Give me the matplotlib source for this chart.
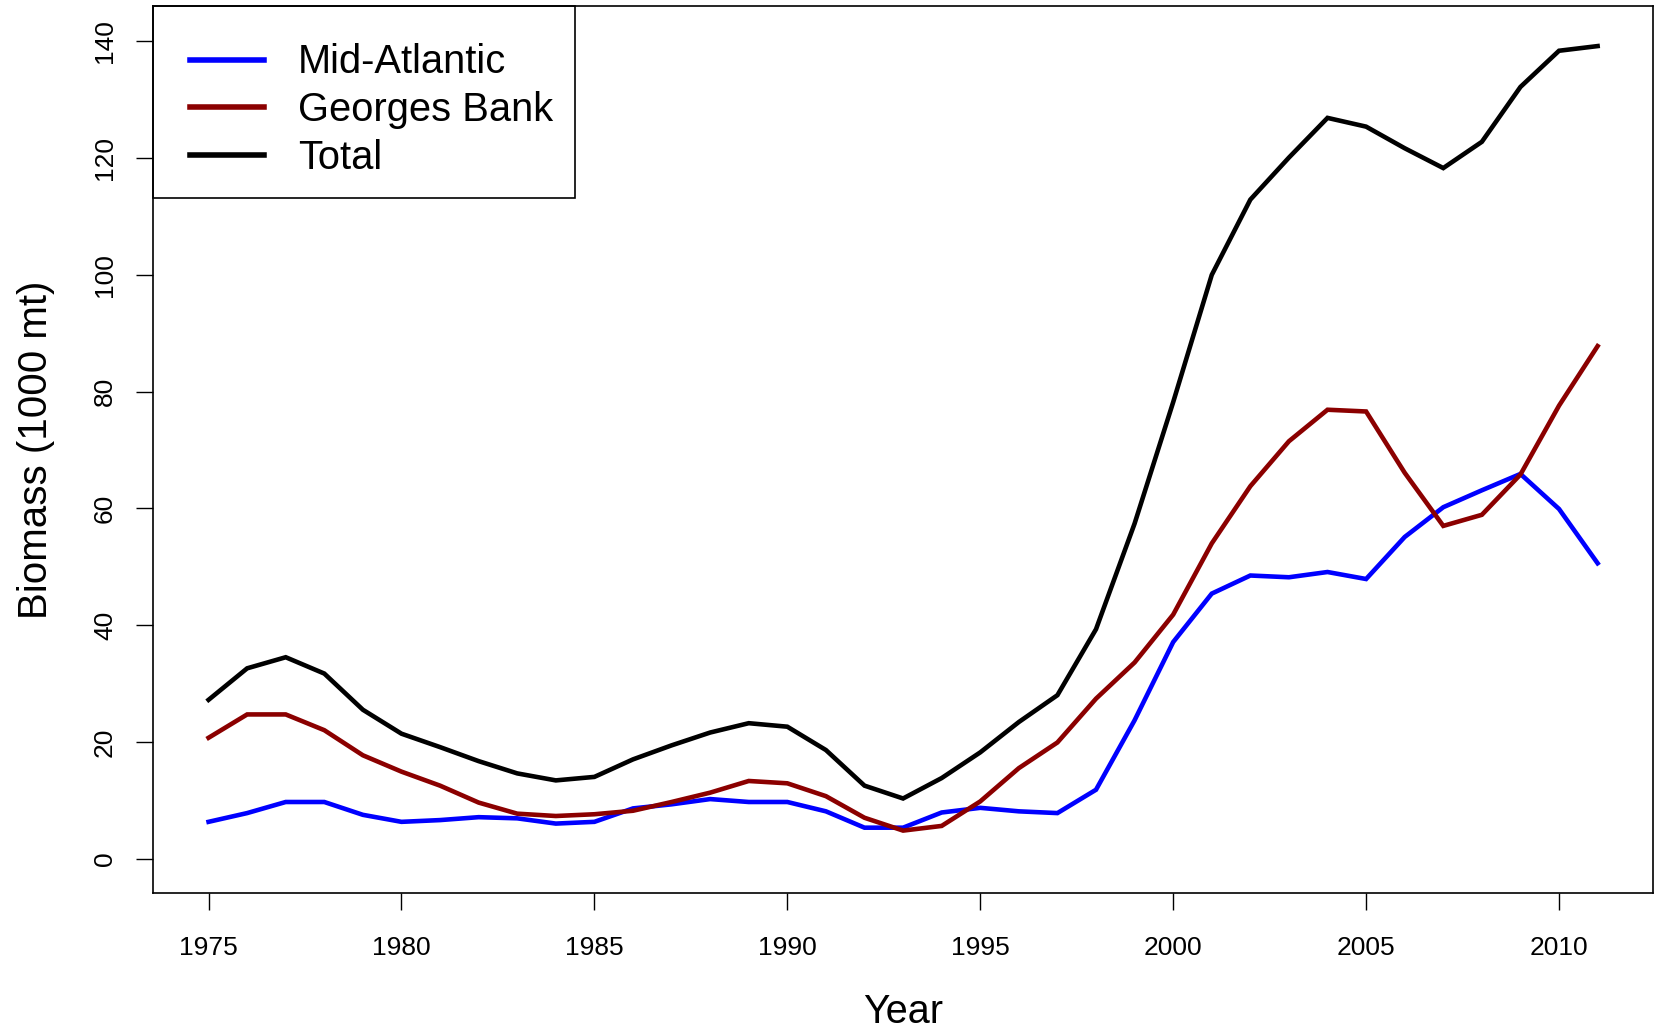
import matplotlib
matplotlib.use("Agg")
import matplotlib.pyplot as plt
from matplotlib.patches import Rectangle

plt.rcParams['font.family'] = ['Liberation Sans', 'DejaVu Sans']

years = list(range(1975, 2012))

mid_atlantic = [6.3, 7.8, 9.7, 9.7, 7.5, 6.3, 6.6, 7.1, 6.9, 6.0,
                6.3, 8.6, 9.3, 10.2, 9.7, 9.7, 8.1, 5.3, 5.3, 7.9,
                8.7, 8.1, 7.8, 11.8, 23.7, 37.1, 45.4, 48.5, 48.2, 49.1,
                47.9, 55.1, 60.2, 63.1, 65.9, 59.9, 50.6]

georges_bank = [20.7, 24.7, 24.7, 22.0, 17.7, 14.9, 12.5, 9.6, 7.7, 7.3,
                7.6, 8.2, 9.7, 11.3, 13.3, 12.9, 10.7, 7.0, 4.8, 5.6,
                9.8, 15.5, 19.9, 27.4, 33.6, 41.8, 54.0, 63.8, 71.5, 76.9,
                76.6, 66.1, 57.0, 58.9, 65.8, 77.6, 87.8]

total = [27.2, 32.6, 34.5, 31.7, 25.5, 21.4, 19.1, 16.7, 14.6, 13.4,
         14.0, 17.0, 19.4, 21.6, 23.2, 22.6, 18.6, 12.5, 10.3, 13.8,
         18.2, 23.4, 28.0, 39.3, 57.4, 78.2, 100.0, 112.9, 120.1, 126.9,
         125.4, 121.7, 118.3, 122.8, 132.2, 138.4, 139.2]

series_names = ["Mid-Atlantic", "Georges Bank", "Total"]
series_colors = ["#0000FF", "#8B0000", "#000000"]

x_ticks = [1975, 1980, 1985, 1990, 1995, 2000, 2005, 2010]
y_ticks = [0, 20, 40, 60, 80, 100, 120, 140]

fig = plt.figure(figsize=(16.54, 10.31), dpi=100)
ax = fig.add_axes([0.0925, 0.1338, 0.907, 0.86])

for vals, name, col in zip([mid_atlantic, georges_bank, total], series_names, series_colors):
    ax.plot(years, vals, color=col, lw=3.3, label=name, solid_joinstyle='miter')

ax.set_xlim(1973.56, 2012.44)
ax.set_ylim(-5.9, 146.0)
ax.set_xticks(x_ticks)
ax.set_yticks(y_ticks)
ax.tick_params(axis='both', direction='out', length=12, width=1.0, labelsize=19, color='black')
ax.tick_params(axis='x', pad=19)
ax.tick_params(axis='y', pad=14)
for lab in ax.get_yticklabels():
    lab.set_rotation(90)
    lab.set_va('center')

for sp in ax.spines.values():
    sp.set_linewidth(1.2)
    sp.set_color('black')

ax.set_xlabel("Year", fontsize=28.5, labelpad=24)
ax.set_ylabel("Biomass (1000 mt)", fontsize=29, labelpad=27)

# legend entries without their own frame; the box is drawn separately
leg = ax.legend(loc='upper left', fontsize=28.7, frameon=False,
                borderaxespad=0, handlelength=1.85, handletextpad=0.85,
                labelspacing=0.24, borderpad=0.93)
for h in leg.get_lines():
    h.set_linewidth(4)
ax.add_patch(Rectangle((0.0, 0.784), 0.2813, 0.216, transform=ax.transAxes,
                       fill=False, edgecolor='black', linewidth=1.2,
                       clip_on=False, zorder=5))

fig.savefig("out.png", dpi=100)
